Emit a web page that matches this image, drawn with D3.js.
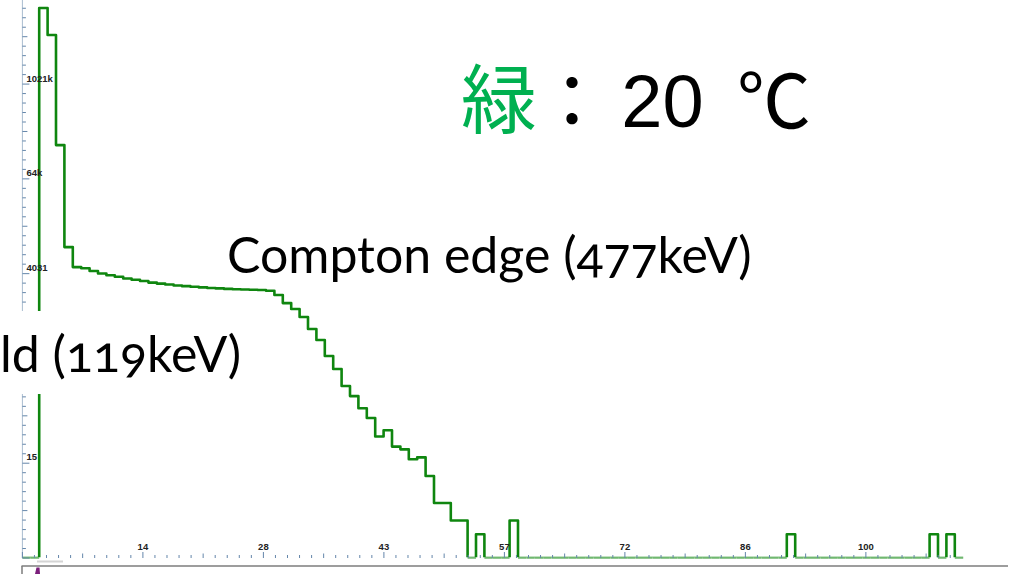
<!DOCTYPE html>
<html>
<head>
<meta charset="utf-8">
<script src="https://cdn.jsdelivr.net/npm/d3@7"></script>
<style>
  html, body { margin: 0; padding: 0; background: #fff; }
  svg { display: block; }
</style>
</head>
<body>
<svg id="chart" width="1020" height="574"></svg>
<script>
// Counts per channel, channels 0..111
const counts = [
  0, 0, 9700000, 4400000, 176000, 8900, 4960, 4800, 4420, 4120,
  3900, 3740, 3560, 3420, 3300, 3150, 3060, 2980, 2900, 2840,
  2790, 2740, 2690, 2660, 2620, 2600, 2580, 2560, 2540, 2480,
  2190, 1730, 1455, 1150, 810, 587, 367, 251, 152, 113,
  79, 59, 34, 41, 25, 23, 17, 18, 10, 4,
  4, 2, 2, 0, 1, 0, 0, 0, 2, 0,
  0, 0, 0, 0, 0, 0, 0, 0, 0, 0,
  0, 0, 0, 0, 0, 0, 0, 0, 0, 0,
  0, 0, 0, 0, 0, 0, 0, 0, 0, 0,
  0, 1, 0, 0, 0, 0, 0, 0, 0, 0,
  0, 0, 0, 0, 0, 0, 0, 0, 1, 0,
  1, 0
];
const channels = d3.range(counts.length);

// Axis labels
const xTickLabels = ["14", "28", "43", "57", "72", "86", "100"];
const yTickValues = [15, 4031, 64000, 1021000];
const yTickLabels = ["15", "4031", "64k", "1021k"];

// Annotations
const edgeLabel = "Compton edge (477keV)";
const thresholdLabel = "ld (119keV)";
const tempLabel = { color: "緑", sep: "：", value: "20", unit: "℃" };

const svg = d3.select("#chart");
const baseY = 558;
const nCh = counts.length;
const majorStep = 14.345;              // channels between labelled x ticks

const x = d3.scaleLinear().domain([0, nCh]).range([22.4, 22.4 + nCh * 8.4]);
const y = d3.scaleSymlog().constant(1).domain([0, 1021000]).range([baseY, 85]);

// ---- spectrum line ----
svg.append("defs").append("clipPath").attr("id", "plotClip")
  .append("rect").attr("x", 0).attr("y", 0).attr("width", 1020).attr("height", baseY - 0.7);

const pts = channels.map(c => ({ c, v: counts[c] }));
pts.push({ c: nCh, v: counts[nCh - 1] });

// zero-count segments sit on the floor in a lighter tone
svg.append("g").selectAll("line").data(channels.filter(c => counts[c] === 0)).join("line")
  .attr("x1", c => x(c)).attr("x2", c => x(c + 1))
  .attr("y1", y(0)).attr("y2", y(0))
  .attr("stroke", "#92c892").attr("stroke-width", 2);

svg.append("path")
  .datum(pts)
  .attr("clip-path", "url(#plotClip)")
  .attr("fill", "none")
  .attr("stroke", "#0f860f")
  .attr("stroke-width", 2.6)
  .attr("stroke-linejoin", "round")
  .attr("d", d3.line().x(d => x(d.c)).y(d => y(d.v)).curve(d3.curveStepAfter));

// ---- y axis ----
const axisX = x(0);
svg.append("line").attr("x1", axisX).attr("x2", axisX).attr("y1", 0).attr("y2", baseY)
  .attr("stroke", "#a9bccf").attr("stroke-width", 1);

const yMinor = d3.range(0, 59).map(j => ({ j, v: Math.pow(2, 0.4 * j) - 1 }));
svg.append("g").selectAll("line").data(yMinor).join("line")
  .attr("x1", axisX).attr("x2", d => axisX + (d.j % 10 === 0 ? 7 : d.j % 5 === 0 ? 5 : 3.5))
  .attr("y1", d => y(d.v)).attr("y2", d => y(d.v))
  .attr("stroke", "#6486aa").attr("stroke-width", 1);

svg.append("g").selectAll("text").data(yTickValues).join("text")
  .attr("x", axisX + 4).attr("y", v => y(v) - 3.5)
  .attr("font-family", "Liberation Sans, Arial, sans-serif")
  .attr("font-weight", "bold").attr("font-size", 9.5).attr("fill", "#222")
  .text((v, i) => yTickLabels[i]);

// ---- x axis ----
const xMinor = d3.range(0, 200).map(m => ({ m, c: m * majorStep / 10 })).filter(d => x(d.c) <= 958);
svg.append("g").selectAll("line").data(xMinor).join("line")
  .attr("x1", d => x(d.c)).attr("x2", d => x(d.c))
  .attr("y1", baseY).attr("y2", d => baseY - (d.m % 10 === 0 ? 6 : d.m % 5 === 0 ? 4.5 : 3))
  .attr("stroke", "#6486aa").attr("stroke-width", 1);

svg.append("g").selectAll("text").data(xTickLabels).join("text")
  .attr("x", (t, i) => x((i + 1) * majorStep)).attr("y", 550)
  .attr("text-anchor", "middle")
  .attr("font-family", "Liberation Sans, Arial, sans-serif")
  .attr("font-weight", "bold").attr("font-size", 9.5).attr("fill", "#222")
  .text(t => t);

// ---- window chrome below the plot ----
svg.append("rect").attr("x", 37).attr("y", 560.5).attr("width", 26).attr("height", 2).attr("fill", "#d4d4d4");
svg.append("line").attr("x1", 21.5).attr("x2", 1008).attr("y1", 566).attr("y2", 566)
  .attr("stroke", "#7d7d7d").attr("stroke-width", 1.5);
svg.append("line").attr("x1", 22).attr("x2", 22).attr("y1", 566).attr("y2", 574)
  .attr("stroke", "#7d7d7d").attr("stroke-width", 1.5);
svg.append("polygon").attr("points", "35,574 36.5,567.5 39.5,567.5 40,574").attr("fill", "#7b1f7b");

// ---- annotations ----
const annoFont = "Lato, 'Open Sans', sans-serif";
svg.append("text").attr("x", 227).attr("y", 273)
  .attr("font-family", annoFont).attr("font-size", 50).attr("fill", "#000")
  .style("font-variant-numeric", "oldstyle-nums")
  .text(edgeLabel);

svg.append("rect").attr("x", 0).attr("y", 311).attr("width", 246).attr("height", 83).attr("fill", "#fff");
svg.append("text").attr("x", 0).attr("y", 372)
  .attr("font-family", annoFont).attr("font-size", 50).attr("fill", "#000")
  .style("font-variant-numeric", "oldstyle-nums")
  .text(thresholdLabel);

const cjk = "'Noto Sans CJK JP', sans-serif";
svg.append("text").attr("x", 499).attr("y", 128).attr("text-anchor", "middle")
  .attr("font-family", cjk).attr("font-size", 76).attr("fill", "#00b050").text(tempLabel.color);
svg.append("text").attr("x", 572).attr("y", 128).attr("text-anchor", "middle")
  .attr("font-family", cjk).attr("font-size", 74).attr("fill", "#000").text(tempLabel.sep);
svg.append("text").attr("x", 662.5).attr("y", 127).attr("text-anchor", "middle")
  .attr("font-family", "'Liberation Sans', Arial, sans-serif").attr("font-size", 74).attr("fill", "#000").text(tempLabel.value);
svg.append("text").attr("x", 774).attr("y", 128).attr("text-anchor", "middle")
  .attr("font-family", cjk).attr("font-size", 74).attr("fill", "#000").text(tempLabel.unit);
</script>
</body>
</html>
